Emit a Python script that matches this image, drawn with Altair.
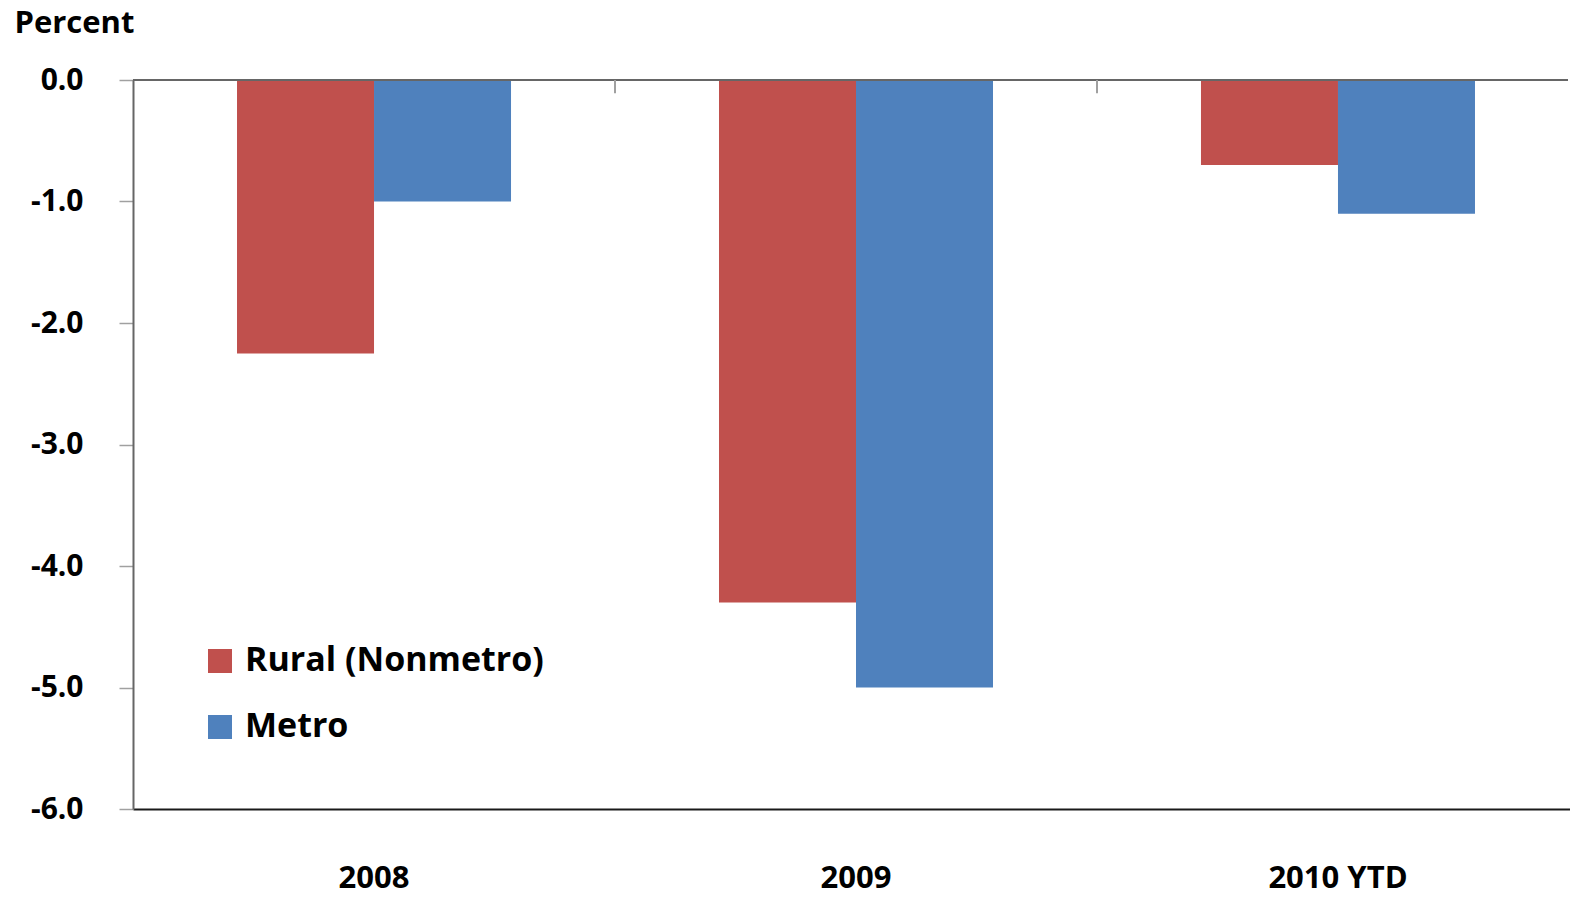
import altair as alt
import pandas as pd

# Year-over-year change, percent
periods = ["2008", "2009", "2010 YTD"]
rural = [-2.25, -4.3, -0.7]
metro = [-1.0, -5.0, -1.1]
series_names = ["Rural (Nonmetro)", "Metro"]
series_colors = ["#C0504D", "#4F81BD"]
y_ticks = [0, -1, -2, -3, -4, -5, -6]

rows = []
for p, r, m in zip(periods, rural, metro):
    rows.append({"period": p, "series": series_names[0], "value": r})
    rows.append({"period": p, "series": series_names[1], "value": m})
df = pd.DataFrame(rows)

FONT = "Open Sans"
X_RANGE = [0, 1446]  # category axis runs slightly past the right edge

y_scale = alt.Scale(domain=[-6, 0], nice=False)

bars = alt.Chart(df).mark_bar().encode(
    x=alt.X(
        "period:N",
        sort=periods,
        scale=alt.Scale(paddingInner=0.4315, paddingOuter=0.2158, range=X_RANGE),
        axis=alt.Axis(
            title=None, labelAngle=0, ticks=False, labelPadding=54,
            labelFontSize=31, labelFont=FONT, labelFontWeight="bold",
            labelColor="#000000", domainColor="#1a1a1a", domainWidth=2,
        ),
    ),
    xOffset=alt.XOffset("series:N", sort=series_names,
                        scale=alt.Scale(paddingInner=0, paddingOuter=0)),
    y=alt.Y(
        "value:Q",
        scale=y_scale,
        axis=alt.Axis(
            values=y_ticks, grid=False, tickSize=14, tickColor="#a0a0a0",
            tickWidth=1.5, labelPadding=36, labelFontSize=30, labelFont=FONT,
            labelFontWeight="bold", labelColor="#000000",
            labelExpr="datum.value == 0 ? '0.0' : '-' + format(abs(datum.value), '.1f')",
            domainColor="#666666", domainWidth=2,
            title="Percent", titleAngle=0, titleX=-119, titleY=-48,
            titleAlign="left", titleBaseline="alphabetic", titleFontSize=31,
            titleFont=FONT, titleFontWeight="bold", titleColor="#000000",
        ),
    ),
    y2=alt.datum(0),
    color=alt.Color(
        "series:N",
        sort=series_names,
        scale=alt.Scale(domain=series_names, range=series_colors),
        legend=alt.Legend(
            title=None, orient="none", legendX=70, legendY=564,
            symbolType="square", symbolSize=576, symbolStrokeWidth=0,
            symbolOpacity=1, labelFontSize=34, labelFont=FONT,
            labelFontWeight="bold", labelColor="#000000", rowPadding=32,
            labelOffset=8, labelLimit=600,
        ),
    ),
)

# horizontal line at zero across the plot
zero_line = alt.Chart(pd.DataFrame({"z": [0]})).mark_rule(
    color="#666666", strokeWidth=2
).encode(y=alt.Y("z:Q", scale=y_scale))

# short ticks between the period groups, hanging from the zero line
bounds = pd.DataFrame({"b": [1, 2], "top": [0, 0], "bot": [-0.11, -0.11]})
sep_ticks = alt.Chart(bounds).mark_rule(color="#a0a0a0", strokeWidth=2).encode(
    x=alt.X("b:Q", scale=alt.Scale(domain=[0, 3], nice=False, zero=False,
                                   range=X_RANGE), axis=None),
    y=alt.Y("top:Q", scale=y_scale),
    y2="bot:Q",
)

chart = (
    alt.layer(bars, zero_line, sep_ticks)
    .resolve_scale(x="independent")
    .properties(
        width=1435,
        height=729,
        autosize=alt.AutoSizeParams(type="none"),
        padding={"left": 133, "top": 80, "right": 2, "bottom": 90},
        background="#ffffff",
    )
    .configure_view(stroke=None)
)

chart.save("out.html", embed_options={"renderer": "svg", "actions": False})
